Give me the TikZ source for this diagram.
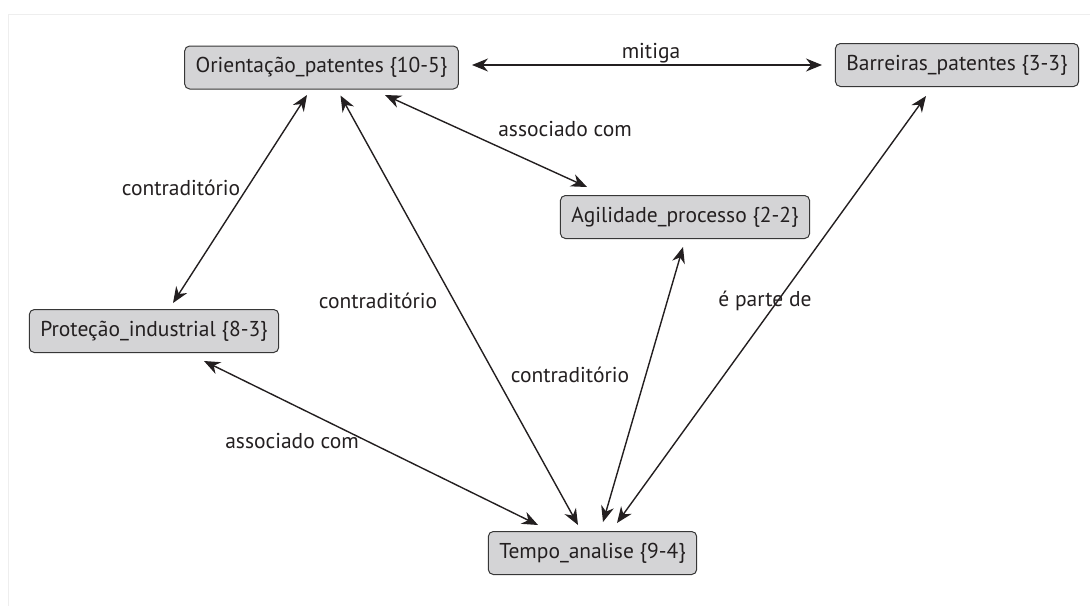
\documentclass[tikz,border=0pt]{standalone}
\usepackage{fontspec}
\setmainfont{PT Sans}
\usetikzlibrary{arrows.meta}
\definecolor{boxfill}{RGB}{212,212,214}
\definecolor{boxline}{RGB}{55,55,55}
\definecolor{ink}{RGB}{35,31,32}
\definecolor{frameline}{RGB}{238,238,238}
\begin{document}
\begin{tikzpicture}[x=1pt,y=-1pt,
  concept/.style={draw=boxline,fill=boxfill,rounded corners=5pt,line width=1pt,
    inner xsep=11pt,minimum height=43pt,text=ink,font=\fontsize{21.5}{24}\selectfont},
  link/.style={draw=ink,line width=1.4pt,{Stealth[length=16pt,width=13pt]}-{Stealth[length=16pt,width=13pt]}},
  lbl/.style={text=ink,font=\fontsize{21.5}{24}\selectfont,inner sep=1pt}]
\useasboundingbox (0,0) rectangle (1090,606);
% faint page frame
\draw[frameline,line width=1pt] (8,606) -- (8,14) -- (1090,14);

% concepts
\node[concept] (or) at (321.5,67.5) {Orientação\_patentes \{10-5\}};
\node[concept] (ba) at (957,65) {Barreiras\_patentes \{3-3\}};
\node[concept] (ag) at (685,217) {Agilidade\_processo \{2-2\}};
\node[concept] (pr) at (154,331) {Proteção\_industrial \{8-3\}};
\node[concept] (te) at (592.5,553) {Tempo\_analise \{9-4\}};

% relations
\draw[link] ([shift={(150.5,-2.5)}]or.center) -- ([shift={(-135,0)}]ba.center);
\draw[link] ([shift={(-14.5,27.5)}]or.center) -- ([shift={(19,-28)}]pr.center);
\draw[link] ([shift={(63.5,27.5)}]or.center) -- ([shift={(-98,-30)}]ag.center);
\draw[link] ([shift={(19,28)}]or.center) -- ([shift={(-14.5,-28)}]te.center);
\draw[link] ([shift={(-2,30)}]ag.center) -- ([shift={(10.5,-31)}]te.center);
\draw[link] ([shift={(-31,31)}]ba.center) -- ([shift={(24.5,-30)}]te.center);
\draw[link] ([shift={(50,30)}]pr.center) -- ([shift={(-54.5,-28)}]te.center);

% relation labels
\node[lbl] (l1) at (651,53) {mitiga};
\node[lbl] (l2) at (565,129) {associado com};
\node[lbl] (l3) at (181,188) {contraditório};
\node[lbl] (l4) at (378,301) {contraditório};
\node[lbl] (l5) at (570,375) {contraditório};
\node[lbl] (l6) at (765,301) {é parte de};
\node[lbl] (l7) at (292,441) {associado com};
\end{tikzpicture}
\end{document}
